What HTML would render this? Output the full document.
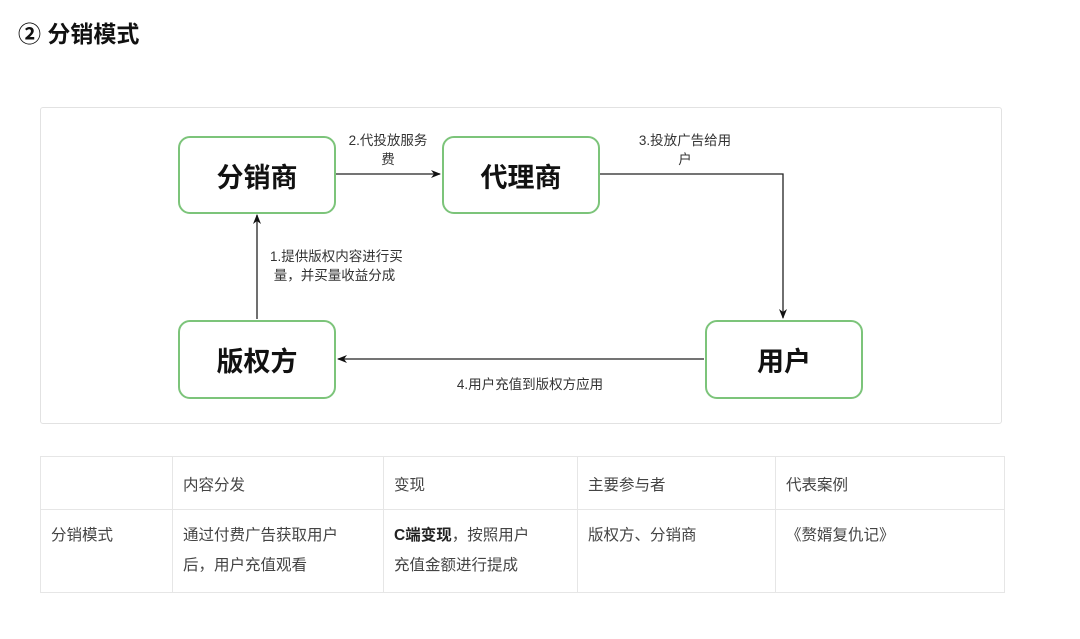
<!DOCTYPE html>
<html><head><meta charset="utf-8"><style>
body{margin:0;width:1080px;height:639px;background:#fff;position:relative;overflow:hidden;font-family:"Liberation Sans","Noto Sans CJK SC",sans-serif;}
.abs{position:absolute}
.node{position:absolute;border:2px solid #7cc47a;border-radius:12px;background:#fff;box-sizing:border-box;display:flex;align-items:center;justify-content:center;font-size:27px;font-weight:bold;color:#111}
.lbl{position:absolute;font-size:13.5px;color:#333;line-height:19px;text-align:center}
table{position:absolute;left:40px;top:456px;border-collapse:collapse;font-size:15.5px;color:#444}
td{border:1px solid #e6e6e6;vertical-align:top;padding:0 10px;box-sizing:border-box}
</style></head><body>
<div class="abs" style="left:18px;top:15px;font-size:23px;font-weight:bold;color:#111">② 分销模式</div>
<div class="abs" style="left:40px;top:107px;width:960px;height:315px;border:1px solid #e2e2e2;border-radius:3px"></div>
<svg class="abs" style="left:0;top:0" width="1080" height="639">
<defs><marker id="a" markerWidth="10" markerHeight="10" refX="9" refY="5" orient="auto" markerUnits="userSpaceOnUse"><path d="M0,1 L10,5 L0,9 L3,5 Z" fill="#111"/></marker></defs>
<g stroke="#222" stroke-width="1.3" fill="none">
<line x1="336" y1="174" x2="440" y2="174" marker-end="url(#a)"/>
<polyline points="600,174 783,174 783,318" marker-end="url(#a)"/>
<line x1="704" y1="359" x2="338" y2="359" marker-end="url(#a)"/>
<line x1="257" y1="319" x2="257" y2="215" marker-end="url(#a)"/>
</g></svg>
<div class="node" style="left:178px;top:136px;width:158px;height:78px">分销商</div>
<div class="node" style="left:442px;top:136px;width:158px;height:78px">代理商</div>
<div class="node" style="left:178px;top:320px;width:158px;height:79px">版权方</div>
<div class="node" style="left:705px;top:320px;width:158px;height:79px">用户</div>
<div class="lbl" style="left:338px;top:131px;width:100px">2.代投放服务<br>费</div>
<div class="lbl" style="left:626px;top:131px;width:118px">3.投放广告给用<br>户</div>
<div class="lbl" style="left:270px;top:247px;width:165px;text-align:left">1.提供版权内容进行买<br>&nbsp;量，并买量收益分成</div>
<div class="lbl" style="left:435px;top:375px;width:190px">4.用户充值到版权方应用</div>
<table>
<tr style="height:53px"><td style="width:132px"></td><td style="width:211px;padding-top:16px">内容分发</td><td style="width:194px;padding-top:16px">变现</td><td style="width:198px;padding-top:16px">主要参与者</td><td style="width:229px;padding-top:16px">代表案例</td></tr>
<tr style="height:83px;line-height:30px"><td style="padding-top:11px">分销模式</td><td style="padding-top:11px">通过付费广告获取用户<br>后，用户充值观看</td><td style="padding-top:11px"><b style="color:#222">C端变现</b>，按照用户<br>充值金额进行提成</td><td style="padding-top:11px">版权方、分销商</td><td style="padding-top:11px">《赘婿复仇记》</td></tr>
</table>
</body></html>
